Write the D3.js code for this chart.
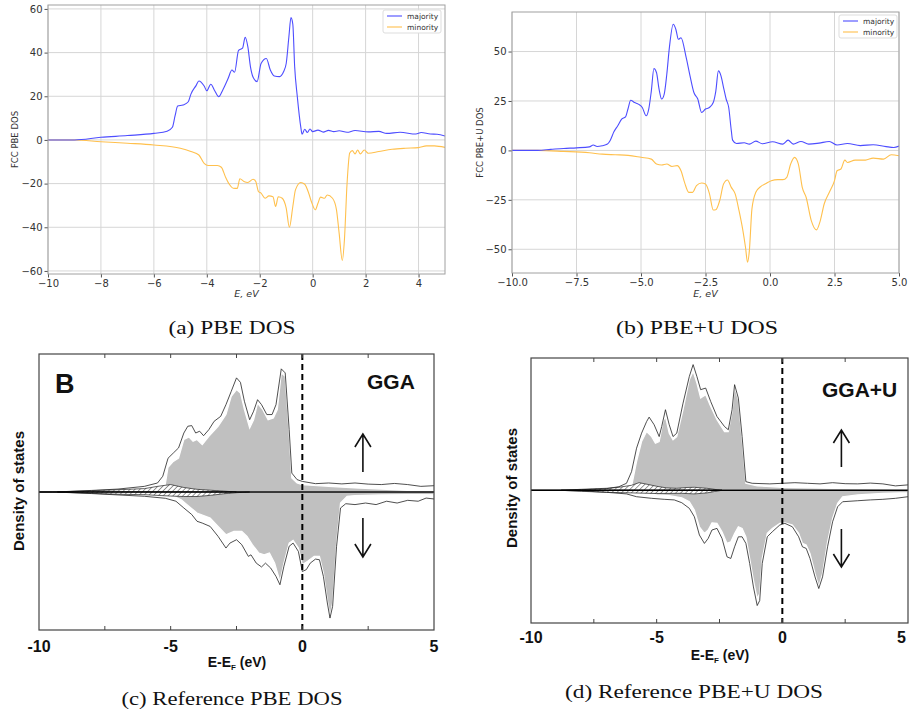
<!DOCTYPE html>
<html>
<head>
<meta charset="utf-8">
<script src="https://cdn.jsdelivr.net/npm/d3@7"></script>
<style>
  body { margin: 0; background: #fff; }
  svg { display: block; }
</style>
</head>
<body>
<script>
// ---- data: [energy, DOS] pairs ----
// (a) PBE
let pbeMajority = [[-10,0],[-9,0],[-8,1.2],[-7,2],[-6,3],[-5.5,4],[-5.3,5.8],[-5.2,11],[-5.1,15.5],[-4.9,16],[-4.7,17.5],[-4.6,21],[-4.4,25],[-4.3,27],[-4.1,24.7],[-4.0,22.5],[-3.85,25.5],[-3.7,22.5],[-3.55,19.8],[-3.4,22.8],[-3.2,28],[-3.05,32],[-2.95,31],[-2.8,41],[-2.65,42],[-2.55,47],[-2.45,42.7],[-2.35,33.5],[-2.25,28.7],[-2.1,26.7],[-1.95,35],[-1.75,37.3],[-1.6,32],[-1.45,29.3],[-1.25,29],[-1.1,31.2],[-1.0,35],[-0.9,47],[-0.82,56],[-0.75,53],[-0.68,33.5],[-0.58,19.8],[-0.45,6],[-0.4,2.6],[-0.3,4.9],[-0.2,3.4],[-0.1,5],[0,3.8],[0.2,4.5],[0.4,3.6],[0.6,4.4],[0.8,3.8],[1.0,4.2],[1.3,3.5],[1.6,4.3],[2.1,3.7],[2.5,3.9],[2.8,3],[3.3,3.5],[3.9,2.7],[4.1,3.4],[4.45,2.7],[4.7,2.6],[5,1.8]];
let pbeMinority = [[-10,0],[-9,0],[-8,-0.8],[-7,-1.5],[-6,-2.3],[-5,-3.8],[-4.6,-5.3],[-4.3,-6.9],[-4.1,-10.7],[-3.95,-11.7],[-3.8,-11.7],[-3.6,-11.7],[-3.45,-12.5],[-3.3,-16.8],[-3.15,-20.3],[-3.0,-22.1],[-2.85,-22.2],[-2.75,-17.8],[-2.6,-19],[-2.45,-19.5],[-2.25,-18],[-2.15,-19],[-2.05,-23.6],[-1.95,-24.4],[-1.8,-26.7],[-1.65,-25.6],[-1.5,-26],[-1.4,-30.5],[-1.3,-26],[-1.15,-26.7],[-1.0,-31.2],[-0.88,-40],[-0.75,-30.5],[-0.65,-22.9],[-0.45,-19.5],[-0.3,-20.3],[-0.15,-24.4],[-0.05,-28.2],[0.1,-32],[0.2,-29],[0.3,-26.2],[0.45,-26.7],[0.55,-25.2],[0.75,-26.7],[0.9,-32],[1.0,-42.7],[1.12,-55.2],[1.2,-45.7],[1.3,-19.8],[1.4,-6],[1.5,-4.9],[1.6,-6.4],[1.7,-4.6],[1.8,-6.4],[1.95,-4.6],[2.1,-6.1],[2.5,-5.3],[3,-4.3],[3.5,-3.8],[4,-3.5],[4.3,-2.7],[4.6,-2.7],[5,-3.4]];
// (b) PBE+U
let pbeuMajority = [[-10,0],[-9,0],[-8.5,0.5],[-8,1],[-7.5,1.3],[-7,1.8],[-6.85,2.7],[-6.7,2],[-6.5,2.4],[-6.3,3.2],[-6.2,4.9],[-6.05,9.4],[-5.9,12.5],[-5.75,15.8],[-5.6,17],[-5.5,21.2],[-5.4,25.4],[-5.25,24.2],[-5.1,23.4],[-4.95,21.7],[-4.8,17.5],[-4.7,20.9],[-4.6,30],[-4.5,41.4],[-4.4,39.4],[-4.3,31],[-4.2,26],[-4.1,28.5],[-4.0,38.5],[-3.9,52],[-3.75,63.8],[-3.65,61.3],[-3.55,56.2],[-3.45,57],[-3.25,47],[-3.1,37.7],[-2.95,29.3],[-2.8,26],[-2.65,19.2],[-2.5,20.9],[-2.35,21.7],[-2.2,24.2],[-2.1,30],[-2.0,40.2],[-1.9,37.7],[-1.8,31.8],[-1.7,26],[-1.6,21.7],[-1.5,10],[-1.45,5.2],[-1.3,3.5],[-1.0,3.9],[-0.8,3.2],[-0.55,4.7],[-0.3,3.4],[0.1,4.4],[0.5,3.2],[0.7,5.2],[0.9,3.2],[1.2,4.5],[1.5,3.2],[1.9,3.7],[2.3,4.5],[2.6,2.7],[3.0,3.5],[3.5,2.4],[4.0,2.9],[4.5,1.9],[4.8,1.5],[5.0,2.2]];
let pbeuMinority = [[-10,0],[-9,0],[-8,-0.5],[-7,-1.2],[-6.5,-1.9],[-6,-2.2],[-5.5,-2.5],[-5,-3.5],[-4.6,-4.4],[-4.4,-6.9],[-4.2,-7.4],[-4.0,-6.9],[-3.8,-8.1],[-3.6,-7.7],[-3.45,-10.3],[-3.3,-16.7],[-3.15,-21.2],[-3.0,-21.2],[-2.85,-17.8],[-2.65,-16.5],[-2.5,-17],[-2.35,-21.7],[-2.2,-30.1],[-2.1,-30],[-1.95,-25.4],[-1.8,-17],[-1.65,-15],[-1.5,-18.7],[-1.35,-22],[-1.2,-30.5],[-1.05,-40.6],[-0.95,-49],[-0.87,-56.6],[-0.8,-50.7],[-0.7,-29.6],[-0.55,-21.2],[-0.35,-18.2],[-0.15,-16.7],[0.05,-15.3],[0.3,-14.8],[0.5,-14.8],[0.65,-13.6],[0.8,-6.9],[0.95,-3.5],[1.1,-6.9],[1.25,-18.7],[1.4,-23.7],[1.6,-35.5],[1.8,-40.2],[1.95,-35.5],[2.1,-27.1],[2.3,-21.2],[2.5,-15.3],[2.6,-10.3],[2.75,-9.4],[2.9,-4.9],[3.0,-6.1],[3.3,-4.9],[3.7,-4.9],[4.0,-3.9],[4.4,-4.4],[4.7,-2.2],[5.0,-2.7]];
// (c) reference GGA (arbitrary units)
let ggaTotalUp = [[-10,0],[-9.5,0],[-9,0.2],[-8,0.7],[-7,1.3],[-6,2.5],[-5.5,4],[-5.3,7],[-5.1,15],[-4.9,17.3],[-4.7,19.6],[-4.5,26.2],[-4.35,29.2],[-4.2,29.5],[-4.05,26.2],[-3.9,27],[-3.75,25],[-3.55,27.7],[-3.35,31.4],[-3.1,33.6],[-2.9,38.8],[-2.7,44.7],[-2.5,50.7],[-2.35,48.7],[-2.2,40.3],[-2.0,32.1],[-1.85,35.9],[-1.7,41],[-1.55,38.8],[-1.35,34.4],[-1.15,34.4],[-1.0,38.8],[-0.8,54.7],[-0.65,52.9],[-0.5,27.7],[-0.4,8.4],[-0.2,5.5],[0,4.7],[0.5,3.7],[1,4],[1.5,3.6],[2,4],[2.5,3.5],[3,3.3],[3.5,3.8],[4,3.3],[4.5,2.5],[5,2.8]];
let ggaDUp = [[-5.25,0],[-5.1,11],[-4.9,13.6],[-4.7,15.1],[-4.5,23.3],[-4.3,24.4],[-4.15,22.5],[-4.0,23.3],[-3.8,21],[-3.55,24.7],[-3.2,29.2],[-2.9,34.4],[-2.7,42.5],[-2.5,45.5],[-2.35,44],[-2.2,36.6],[-2.0,28.4],[-1.85,32.1],[-1.7,39.4],[-1.5,36.6],[-1.3,32.1],[-1.1,32.9],[-0.95,36.6],[-0.8,52.9],[-0.65,51.4],[-0.5,26.2],[-0.4,6.2],[-0.2,4],[0,3.3],[1,2.5],[2,1.8],[3,1.3],[4,0.7],[5,0.6]];
let ggaTotalDn = [[-10,0],[-9.5,0],[-9,-0.2],[-8,-0.7],[-7,-1.3],[-6,-1.9],[-5.2,-2.8],[-4.8,-4.1],[-4.5,-7.1],[-4.2,-10],[-4.0,-13],[-3.8,-13.8],[-3.5,-15.3],[-3.2,-19.7],[-2.9,-24.9],[-2.75,-22.7],[-2.5,-21.2],[-2.3,-23.4],[-2.05,-28.6],[-1.95,-27.9],[-1.75,-31.6],[-1.55,-33.3],[-1.4,-31.6],[-1.2,-33.8],[-1.0,-37.5],[-0.85,-41.2],[-0.7,-33],[-0.5,-24.1],[-0.35,-22.7],[-0.15,-26.4],[0,-35.3],[0.15,-34.5],[0.3,-31.6],[0.5,-29.8],[0.65,-30.1],[0.8,-37.5],[0.95,-49.3],[1.05,-56],[1.15,-50.8],[1.3,-24.1],[1.45,-7.1],[1.65,-5.2],[2,-5.6],[2.4,-4.9],[2.8,-5.6],[3.2,-4.1],[3.6,-4.9],[4,-3.7],[4.4,-4.1],[4.7,-2.7],[5,-3.1]];
let ggaDDn = [[-5.3,0],[-5.0,-1.2],[-4.6,-3.4],[-4.3,-6.4],[-4.0,-9.3],[-3.5,-11.6],[-3.2,-15.3],[-2.9,-19],[-2.6,-17.5],[-2.3,-17.5],[-2.1,-19.7],[-1.9,-23.4],[-1.65,-27.1],[-1.45,-27.9],[-1.25,-27.1],[-1.05,-31.6],[-0.85,-39.7],[-0.7,-31.6],[-0.5,-22.7],[-0.35,-21.5],[-0.15,-24.9],[0,-32.3],[0.2,-30.8],[0.45,-28.6],[0.65,-28.6],[0.8,-36],[0.95,-47.9],[1.05,-55.3],[1.15,-49.3],[1.3,-22.7],[1.45,-4.9],[1.7,-1.9],[2,-1.6],[3,-1.3],[4,-1.2],[5,-1]];
let ggaSpUp = [[-9.3,0],[-8,0.6],[-7,1],[-6,1.5],[-5.5,2.5],[-5,3.3],[-4.5,2],[-4,1.2],[-3.5,0.8],[-3,0.4],[-2.5,0]];
let ggaSpDn = [[-9.3,0],[-8,-0.6],[-7,-1],[-6,-1.2],[-5,-1.8],[-4.5,-2],[-4,-2],[-3.5,-1.5],[-3,-0.8],[-2.5,-0.3],[-2,0]];
// (d) reference GGA+U
let ggauTotalUp = [[-10,0],[-9,0],[-8,0.3],[-7,0.8],[-6.5,1.8],[-6.2,3.5],[-6.0,9.3],[-5.8,21],[-5.6,28.5],[-5.4,34.3],[-5.3,36.5],[-5.1,32.7],[-4.9,26.8],[-4.8,31.8],[-4.65,40.2],[-4.5,32.7],[-4.35,26.8],[-4.2,28.5],[-3.95,43.5],[-3.7,56.8],[-3.55,62.7],[-3.4,56.8],[-3.25,50.2],[-3.05,51],[-2.85,44.3],[-2.6,36.8],[-2.3,31.8],[-2.15,30.2],[-2.0,40.2],[-1.9,52.7],[-1.75,46],[-1.6,26.8],[-1.45,4.3],[-1.2,3.5],[-0.5,3.2],[0,3.5],[0.5,3.8],[1,3.5],[1.5,3.2],[2,3.8],[2.5,3.3],[3,3.2],[3.5,3.6],[4,3.2],[4.5,2.2],[5,2.7]];
let ggauDUp = [[-6.1,0],[-6.0,1.8],[-5.8,14.3],[-5.6,24.3],[-5.4,29.3],[-5.2,26.8],[-5.05,23.5],[-4.9,24.3],[-4.75,34.3],[-4.65,36.8],[-4.5,28.5],[-4.35,25.2],[-4.2,26.8],[-3.95,40.2],[-3.7,55.2],[-3.55,59.3],[-3.4,53.5],[-3.25,46],[-3.05,47.7],[-2.85,41.8],[-2.6,35.2],[-2.3,29.3],[-2.15,29.3],[-2.0,39.3],[-1.9,51.8],[-1.75,45.2],[-1.6,25.2],[-1.45,3.5],[-1,2.2],[0,1.5],[2,1],[4,0.7],[5,0.5]];
let ggauTotalDn = [[-10,0],[-9,0],[-8,-0.3],[-7,-1],[-6.2,-1.8],[-5.8,-3.2],[-5.2,-4],[-4.7,-4.5],[-4.3,-4.8],[-4.0,-6.2],[-3.7,-9],[-3.5,-13.2],[-3.3,-22.3],[-3.1,-26.5],[-2.95,-24],[-2.8,-19.8],[-2.6,-19],[-2.4,-24],[-2.2,-33.2],[-2.05,-34],[-1.9,-28.2],[-1.75,-23.2],[-1.6,-23.2],[-1.45,-26.5],[-1.3,-36.5],[-1.15,-48.2],[-1.0,-57.5],[-0.9,-55],[-0.8,-36.5],[-0.6,-23.2],[-0.4,-20.7],[-0.1,-17.3],[0.1,-16.5],[0.4,-18.2],[0.65,-23.2],[0.8,-28.2],[0.95,-29],[1.1,-34],[1.3,-43.2],[1.45,-49],[1.6,-43.2],[1.8,-28.2],[2.0,-15.7],[2.2,-8.2],[2.4,-5.7],[3,-5.2],[3.5,-4.8],[4,-4.5],[4.5,-4],[5,-3.2]];
let ggauDDn = [[-6.1,0],[-5.5,-1.5],[-5,-2.3],[-4.5,-2.7],[-4.0,-3.7],[-3.7,-5.7],[-3.5,-9.8],[-3.3,-18.2],[-3.1,-21.5],[-2.95,-19.8],[-2.8,-16.2],[-2.6,-16.5],[-2.4,-20.7],[-2.2,-26.5],[-2.05,-25.7],[-1.9,-21.5],[-1.75,-18.2],[-1.6,-19],[-1.45,-23.2],[-1.3,-34],[-1.15,-44.8],[-1.0,-54],[-0.9,-51.5],[-0.8,-34],[-0.6,-21.5],[-0.4,-19],[-0.1,-16.5],[0.1,-16.2],[0.4,-17.3],[0.65,-21.5],[0.8,-26.5],[0.95,-27.3],[1.1,-31.5],[1.3,-41.5],[1.45,-48.2],[1.6,-41.5],[1.8,-25.7],[2.0,-14],[2.2,-6.5],[2.4,-3.2],[3,-2.3],[4,-1.5],[5,-1.2]];
let ggauSpUp = [[-8.8,0],[-8,0.5],[-7,1],[-6.5,1.5],[-6,2.5],[-5.7,3.8],[-5.3,2.8],[-5,2],[-4.6,1.2],[-4.2,1],[-3.8,1.4],[-3.5,1.5],[-3,1],[-2.6,0.3],[-2.4,0]];
let ggauSpDn = [[-8.8,0],[-8,-0.5],[-7,-1],[-6,-1.3],[-5,-1.6],[-4,-1.5],[-3.5,-1.8],[-3,-1.3],[-2.7,-0.6],[-2.4,0]];

// tick values
let pbeXTicks = [-10, -8, -6, -4, -2, 0, 2, 4];
let pbeYTicks = [-60, -40, -20, 0, 20, 40, 60];
let pbeuXTicks = [-10, -7.5, -5, -2.5, 0, 2.5, 5];
let pbeuYTicks = [-50, -25, 0, 25, 50];
let refXLabels = [-10, -5, 0, 5];
let refXMinor = [-7.5, -5, -2.5, 0, 2.5];
let legendNames = ['majority', 'minority'];

let width = 909, height = 717;
let svg = d3.select('body').append('svg')
    .attr('width', width).attr('height', height);

let defs = svg.append('defs');
let hatch = defs.append('pattern')
    .attr('id', 'hatch').attr('patternUnits', 'userSpaceOnUse')
    .attr('width', 3.5).attr('height', 3.5)
    .attr('patternTransform', 'rotate(45)');
hatch.append('rect').attr('width', 3.5).attr('height', 3.5).attr('fill', '#fff');
hatch.append('line').attr('x1', 0).attr('y1', 0).attr('x2', 0).attr('y2', 3.5)
    .attr('stroke', '#333').attr('stroke-width', 1);

let blue = '#4d4dff', orange = '#ffc04d';

//matplotlib-like panel
function mplPanel(o) {
    let x = d3.scaleLinear().domain([-10, 5]).range([o.left, o.right]);
    let y = d3.scaleLinear().domain(o.yDomain).range([o.bottom, o.top]);
    let g = svg.append('g');
    let id = 'clip' + o.name;
    defs.append('clipPath').attr('id', id).append('rect')
        .attr('x', o.left).attr('y', o.top)
        .attr('width', o.right - o.left).attr('height', o.bottom - o.top);

    // grid
    g.selectAll('.gx').data(o.xTicks).enter().append('line')
        .attr('x1', d => x(d)).attr('x2', d => x(d))
        .attr('y1', o.top).attr('y2', o.bottom)
        .attr('stroke', '#d6d6d6').attr('stroke-width', 1);
    g.selectAll('.gy').data(o.yTicks).enter().append('line')
        .attr('y1', d => y(d)).attr('y2', d => y(d))
        .attr('x1', o.left).attr('x2', o.right)
        .attr('stroke', '#d6d6d6').attr('stroke-width', 1);

    let line = d3.line().x(d => x(d[0])).y(d => y(d[1])).curve(d3.curveMonotoneX);
    let lines = g.append('g').attr('clip-path', 'url(#' + id + ')');
    lines.append('path').attr('d', line(o.minority)).attr('fill', 'none')
        .attr('stroke', orange).attr('stroke-width', 1.1);
    lines.append('path').attr('d', line(o.majority)).attr('fill', 'none')
        .attr('stroke', blue).attr('stroke-width', 1.1);

    // axes
    let xAxis = d3.axisBottom(x).tickValues(o.xTicks).tickFormat(o.xFmt).tickSize(3.5).tickPadding(2);
    let yAxis = d3.axisLeft(y).tickValues(o.yTicks).tickFormat(d3.format('d')).tickSize(3.5).tickPadding(2);
    let ga = g.append('g').attr('transform', 'translate(0,' + o.bottom + ')').call(xAxis);
    let gb = g.append('g').attr('transform', 'translate(' + o.left + ',0)').call(yAxis);
    [ga, gb].forEach(a => {
        a.select('.domain').remove();
        a.selectAll('line').attr('stroke', '#555');
        a.selectAll('text').attr('fill', '#333').style('font-family', 'DejaVu Sans').style('font-size', '10px');
    });
    g.append('rect').attr('x', o.left).attr('y', o.top)
        .attr('width', o.right - o.left).attr('height', o.bottom - o.top)
        .attr('fill', 'none').attr('stroke', '#a0a0a0').attr('stroke-width', 1);

    // labels
    g.append('text').attr('transform', 'translate(' + o.ylabelX + ',' + ((o.top + o.bottom) / 2) + ') rotate(-90)')
        .attr('text-anchor', 'middle').attr('fill', '#333')
        .style('font-family', 'DejaVu Sans').style('font-size', '8.5px').text(o.ylabel);
    g.append('text').attr('x', (o.left + o.right) / 2).attr('y', 297)
        .attr('text-anchor', 'middle').attr('fill', '#333')
        .style('font-family', 'DejaVu Sans').style('font-size', '9.5px').style('font-style', 'italic')
        .text('E, eV');

    // legend
    let lg = g.append('g').attr('transform', 'translate(' + o.legX + ',' + o.legY + ')');
    lg.append('rect').attr('width', 58).attr('height', 23).attr('rx', 2)
        .attr('fill', '#fff').attr('stroke', '#ddd');
    lg.selectAll('line').data(legendNames).enter().append('line')
        .attr('x1', 4).attr('x2', 19)
        .attr('y1', (d, i) => 6 + i * 11).attr('y2', (d, i) => 6 + i * 11)
        .attr('stroke', (d, i) => i ? orange : blue).attr('stroke-width', 1.1);
    lg.selectAll('text').data(legendNames).enter().append('text')
        .attr('x', 24).attr('y', (d, i) => 8.5 + i * 11)
        .attr('fill', '#333').style('font-family', 'DejaVu Sans').style('font-size', '7.5px')
        .text(d => d);
}

mplPanel({name: 'a', left: 48, right: 445, top: 5, bottom: 274, yDomain: [-61.4, 61.8],
    xTicks: pbeXTicks, yTicks: pbeYTicks, xFmt: d3.format('d'),
    majority: pbeMajority, minority: pbeMinority, ylabel: 'FCC PBE DOS', ylabelX: 18,
    legX: 383, legY: 10});
mplPanel({name: 'b', left: 512, right: 899, top: 12, bottom: 273, yDomain: [-62, 70],
    xTicks: pbeuXTicks, yTicks: pbeuYTicks, xFmt: d3.format('.1f'),
    majority: pbeuMajority, minority: pbeuMinority, ylabel: 'FCC PBE+U DOS', ylabelX: 483,
    legX: 839, legY: 15});

//reference panel
function refPanel(o) {
    let x = d3.scaleLinear().domain([-10, 5]).range([o.left, o.right]);
    let y = d3.scaleLinear().domain(o.yDomain).range([o.bottom, o.top]);
    let g = svg.append('g');
    let id = 'clip' + o.name;
    defs.append('clipPath').attr('id', id).append('rect')
        .attr('x', o.left).attr('y', o.top)
        .attr('width', o.right - o.left).attr('height', o.bottom - o.top);
    let c = g.append('g').attr('clip-path', 'url(#' + id + ')');

    let area = d3.area().x(d => x(d[0])).y0(y(0)).y1(d => y(d[1]));
    let line = d3.line().x(d => x(d[0])).y(d => y(d[1]));

    [o.dUp, o.dDn].forEach(s => {
        c.append('path').attr('d', area(s)).attr('fill', '#c0c0c0')
            .attr('stroke', '#fff').attr('stroke-width', 1.2);
    });
    [o.spUp, o.spDn].forEach(s => {
        c.append('path').attr('d', area(s)).attr('fill', 'url(#hatch)')
            .attr('stroke', '#222').attr('stroke-width', 0.7);
    });
    [o.totUp, o.totDn].forEach(s => {
        c.append('path').attr('d', line(s)).attr('fill', 'none')
            .attr('stroke', '#222').attr('stroke-width', 0.8);
    });
    c.append('line').attr('x1', o.left).attr('x2', o.right)
        .attr('y1', y(0)).attr('y2', y(0)).attr('stroke', '#000').attr('stroke-width', 1.6);
    c.append('line').attr('x1', x(0)).attr('x2', x(0))
        .attr('y1', o.top).attr('y2', o.bottom)
        .attr('stroke', '#000').attr('stroke-width', 2).attr('stroke-dasharray', '6,4');

    // frame and inward ticks
    g.append('rect').attr('x', o.left).attr('y', o.top)
        .attr('width', o.right - o.left).attr('height', o.bottom - o.top)
        .attr('fill', 'none').attr('stroke', '#444').attr('stroke-width', 1.2);
    g.selectAll('.tb').data(refXMinor).enter().append('line')
        .attr('x1', d => x(d)).attr('x2', d => x(d))
        .attr('y1', o.bottom).attr('y2', o.bottom - 4).attr('stroke', '#444');
    g.selectAll('.tt').data(refXMinor).enter().append('line')
        .attr('x1', d => x(d)).attr('x2', d => x(d))
        .attr('y1', o.top).attr('y2', o.top + 4).attr('stroke', '#444');
    // keep the last label inside the page
    g.selectAll('.tl').data(refXLabels).enter().append('text')
        .attr('x', d => Math.min(x(d), o.labelMax))
        .attr('y', o.tickY)
        .attr('text-anchor', d => x(d) > o.labelMax ? 'end' : 'middle').attr('fill', '#111')
        .style('font-family', 'Liberation Sans, Arial').style('font-weight', 'bold').style('font-size', '16px')
        .text(d => String(d));

    let xl = g.append('text').attr('x', o.xlabelX).attr('y', o.xlabelY)
        .attr('text-anchor', 'middle').attr('fill', '#111')
        .style('font-family', 'Liberation Sans, Arial').style('font-weight', 'bold').style('font-size', '14px');
    xl.append('tspan').text('E-E');
    xl.append('tspan').attr('dy', 3).style('font-size', '8px').text('F');
    xl.append('tspan').attr('dy', -3).text(' (eV)');

    g.append('text').attr('transform', 'translate(' + o.ylabelX + ',' + o.ylabelY + ') rotate(-90)')
        .attr('text-anchor', 'middle').attr('fill', '#111')
        .style('font-family', 'Liberation Sans, Arial').style('font-weight', 'bold').style('font-size', '15px')
        .text('Density of states');

    g.append('text').attr('x', o.tagX).attr('y', o.tagY).attr('fill', '#111')
        .style('font-family', 'Liberation Sans, Arial').style('font-weight', 'bold').style('font-size', '21px')
        .text(o.tag);

    // spin arrows
    let ax = x(o.arrowE);
    let arrow = (y1, y2) => {
        let dir = y2 < y1 ? 1 : -1;
        g.append('path')
            .attr('d', 'M' + ax + ',' + y1 + 'L' + ax + ',' + y2 +
                'M' + (ax - 8) + ',' + (y2 + dir * 13) + 'L' + ax + ',' + y2 + 'L' + (ax + 8) + ',' + (y2 + dir * 13))
            .attr('fill', 'none').attr('stroke', '#111').attr('stroke-width', 1.6);
    };
    arrow(o.upArrow[0], o.upArrow[1]);
    arrow(o.dnArrow[0], o.dnArrow[1]);
}

refPanel({name: 'c', left: 39, right: 434, top: 354, bottom: 630, yDomain: [-61.3, 61.3],
    totUp: ggaTotalUp, dUp: ggaDUp, totDn: ggaTotalDn, dDn: ggaDDn, spUp: ggaSpUp, spDn: ggaSpDn,
    tickY: 652, labelMax: 900, xlabelX: 237, xlabelY: 667, ylabelX: 24, ylabelY: 491,
    tag: 'GGA', tagX: 367, tagY: 389, arrowE: 2.3, upArrow: [472, 434], dnArrow: [518, 557]});
refPanel({name: 'd', left: 531, right: 908, top: 358, bottom: 623, yDomain: [-66.2, 66],
    totUp: ggauTotalUp, dUp: ggauDUp, totDn: ggauTotalDn, dDn: ggauDDn, spUp: ggauSpUp, spDn: ggauSpDn,
    tickY: 643, labelMax: 906, xlabelX: 720, xlabelY: 660, ylabelX: 517, ylabelY: 488,
    tag: 'GGA+U', tagX: 822, tagY: 397, arrowE: 2.35, upArrow: [467, 430], dnArrow: [529, 567]});

// big panel letter
svg.append('text').attr('x', 55).attr('y', 393).attr('fill', '#111')
    .style('font-family', 'Liberation Sans, Arial').style('font-weight', 'bold').style('font-size', '27px')
    .text('B');

// captions
let captions = [
    {t: '(a) PBE DOS', x: 232, y: 334, w: 127},
    {t: '(b) PBE+U DOS', x: 697, y: 334, w: 162},
    {t: '(c) Reference PBE DOS', x: 232, y: 705, w: 221},
    {t: '(d) Reference PBE+U DOS', x: 694, y: 698, w: 258}
];
svg.selectAll('.cap').data(captions).enter().append('text')
    .attr('x', d => d.x).attr('y', d => d.y).attr('text-anchor', 'middle')
    .attr('textLength', d => d.w).attr('lengthAdjust', 'spacingAndGlyphs')
    .attr('fill', '#111')
    .style('font-family', 'Liberation Serif, DejaVu Serif').style('font-size', '18.5px')
    .text(d => d.t);
</script>
</body>
</html>
